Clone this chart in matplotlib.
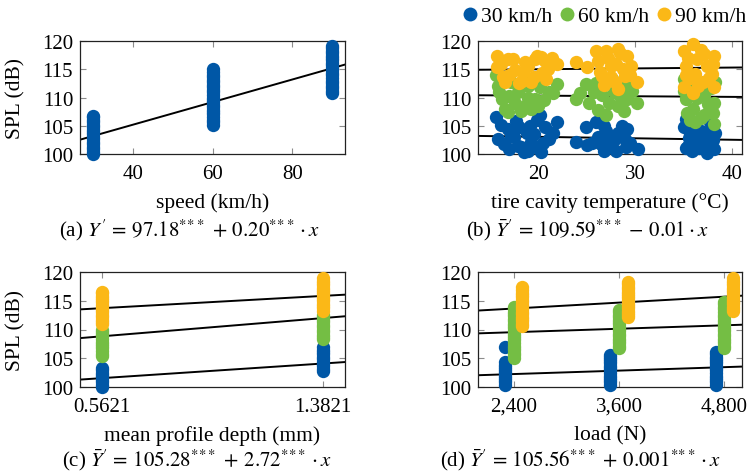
import numpy as np
import matplotlib
matplotlib.use('Agg')
import matplotlib.pyplot as plt
from matplotlib.lines import Line2D

plt.rcParams['font.family'] = ['Liberation Serif', 'DejaVu Serif']
plt.rcParams['mathtext.fontset'] = 'stix'

c_blue = '#0057A6'
c_green = '#74BE44'
c_yellow = '#FBB817'
colors = [c_blue, c_green, c_yellow]
speed_names = ['30 km/h', '60 km/h', '90 km/h']

#%% data
# (a) speed
speeds = [30, 60, 90]
spl_by_speed = [
    [100.0, 100.4, 100.9, 101.3, 101.7, 102.2, 102.6, 103.0, 103.5, 103.9, 104.3, 104.8,
     105.2, 105.6, 106.1, 106.5, 106.8],
    [105.2, 105.6, 106.1, 106.5, 107.0, 107.4, 107.8, 108.3, 108.7, 109.2, 109.6, 110.0,
     110.5, 110.9, 111.4, 111.8, 112.2, 112.7, 113.1, 113.6, 114.0, 114.5, 115.0],
    [110.8, 111.2, 111.7, 112.1, 112.6, 113.0, 113.5, 113.9, 114.3, 114.8, 115.2, 115.7,
     116.1, 116.6, 117.0, 117.4, 117.9, 118.3, 118.7, 119.1],
]
speed_fit = [97.18, 0.20]

# (b) tire cavity temperature
temp_30 = [15.7, 15.9, 16.9, 17.9, 18.5, 19.3, 19.9, 20.2, 20.0, 21.1, 21.9, 20.7, 17.2, 18.8,
           16.5, 17.0, 17.5, 18.2, 18.0, 19.0, 19.6, 20.5, 16.2, 17.7, 19.2, 21.5, 20.3,
           23.9, 24.9, 26.0, 27.5, 26.8, 28.2, 29.2, 30.3, 28.9, 25.5, 27.2,
           26.2, 26.5, 27.0, 27.8, 28.0, 28.6, 29.5, 26.8, 25.0, 29.0,
           35.2, 37.9, 38.1, 35.4, 36.4, 37.1, 36.0, 37.4, 35.6, 38.0,
           35.0, 35.5, 35.8, 36.2, 36.6, 36.8, 37.3, 37.7, 38.2, 35.2, 37.8]
spl_30 = [106.5, 102.6, 104.4, 101.5, 100.3, 102.2, 106.0, 106.9, 101.0, 102.6, 105.6, 104.7, 103.2, 103.8,
          101.8, 100.8, 103.0, 101.2, 104.8, 100.6, 103.6, 102.0, 105.2, 105.8, 105.0, 103.8, 100.4,
          102.2, 104.7, 105.6, 101.3, 100.5, 103.7, 104.4, 100.9, 102.6, 102.0, 103.2,
          103.0, 101.8, 104.0, 102.4, 100.6, 104.9, 102.0, 105.0, 101.6, 101.2,
          106.2, 104.9, 100.8, 101.5, 102.6, 103.7, 104.7, 100.2, 103.6, 102.5,
          104.8, 102.8, 100.6, 105.6, 101.0, 104.0, 102.1, 105.6, 103.8, 101.0, 101.4]
temp_60 = [15.7, 15.9, 16.3, 16.9, 17.9, 18.6, 19.7, 20.0, 21.1, 21.9, 17.6, 18.9,
           16.0, 16.6, 17.2, 17.0, 18.2, 18.0, 19.0, 19.3, 20.6, 21.5, 16.4, 20.2, 18.5,
           23.9, 24.9, 25.2, 26.6, 27.0, 28.2, 29.2, 30.2, 27.6, 28.6,
           24.3, 25.8, 26.2, 27.3, 27.8, 28.8, 29.7, 26.0, 28.5, 29.0,
           35.0, 35.2, 36.0, 37.1, 38.1, 38.1, 35.8, 37.1, 38.2,
           35.3, 35.6, 36.4, 36.6, 36.8, 37.5, 37.8, 35.0, 36.2, 38.0]
spl_60 = [113.9, 112.1, 109.8, 107.4, 110.9, 108.5, 109.8, 108.5, 110.9, 112.4, 109.1, 112.1,
          111.0, 108.0, 112.8, 110.2, 107.6, 111.5, 110.0, 107.9, 109.6, 110.8, 113.0, 111.8, 113.0,
          109.8, 112.4, 109.1, 110.4, 106.9, 108.5, 109.8, 109.1, 113.3, 111.5,
          110.8, 111.0, 107.8, 109.0, 111.0, 107.6, 111.2, 112.6, 110.0, 112.2,
          113.3, 109.8, 108.0, 106.9, 105.3, 109.1, 111.5, 110.4, 112.8,
          107.2, 106.0, 110.0, 112.4, 106.4, 108.8, 111.6, 111.2, 105.6, 107.2]
temp_90 = [15.8, 15.8, 16.9, 16.6, 17.6, 18.6, 19.7, 19.9, 19.3, 20.7, 21.9, 20.4, 18.3,
           16.2, 17.0, 17.4, 18.0, 18.4, 19.0, 19.6, 20.3, 21.0, 21.4, 16.4, 20.8,
           23.9, 25.0, 26.0, 27.0, 26.6, 27.5, 27.9, 29.2, 28.9, 30.2, 28.2, 29.6,
           26.2, 26.4, 27.2, 27.5, 28.0, 28.4, 28.7, 29.5, 26.8, 28.2,
           35.0, 36.0, 35.2, 35.0, 36.0, 37.1, 38.1, 37.9, 38.1, 36.2, 37.0,
           35.4, 35.6, 36.4, 36.5, 36.8, 37.4, 37.6, 38.0, 35.2, 36.0]
spl_90 = [117.4, 115.4, 116.8, 112.8, 114.8, 116.2, 116.8, 117.4, 112.8, 116.5, 115.9, 114.3, 113.0,
          116.0, 114.0, 116.8, 112.6, 114.6, 115.5, 113.6, 117.2, 115.0, 117.0, 113.6, 113.2,
          116.2, 115.4, 118.3, 118.3, 113.8, 115.6, 112.8, 117.4, 113.8, 112.8, 111.5, 115.6,
          116.4, 114.6, 117.0, 113.6, 116.0, 117.8, 115.0, 114.0, 112.2, 118.6,
          118.3, 119.5, 115.6, 111.8, 110.9, 117.7, 117.4, 114.2, 111.8, 114.2, 112.8,
          117.0, 113.4, 116.8, 112.0, 118.4, 115.6, 113.4, 116.0, 114.0, 110.8]
temp_fit_icpt = [103.56, 110.55, 114.70]
temp_fit_slope = [-0.026, -0.011, 0.015]

# (c) mean profile depth
mpd_levels = [0.5621, 1.3821]
mpd_tick_labels = ['0.5621', '1.3821']
mpd_spl = [  # [speed][mpd level]
    [[100.0, 100.4, 100.8, 101.2, 101.7, 102.1, 102.5, 102.9, 103.3],
     [102.8, 103.2, 103.6, 104.0, 104.4, 104.9, 105.3, 105.7, 106.1, 106.5, 107.0]],
    [[105.4, 105.8, 106.2, 106.7, 107.1, 107.5, 107.9, 108.4, 108.8, 109.2, 109.6, 110.0],
     [108.3, 108.7, 109.1, 109.6, 110.0, 110.4, 110.8, 111.3, 111.7, 112.1, 112.6]],
    [[110.9, 111.3, 111.7, 112.1, 112.6, 113.0, 113.4, 113.8, 114.2, 114.7, 115.1, 115.5,
      115.9, 116.3, 116.6],
     [113.3, 113.7, 114.1, 114.5, 114.9, 115.3, 115.7, 116.1, 116.5, 116.9, 117.3, 117.7,
      118.1, 118.5, 118.9]],
]
mpd_fit_icpt = [99.80, 106.65, 112.25]
mpd_fit_slope = [3.10, 3.86, 2.60]

# (d) load
loads = [2400, 3600, 4800]
load_tick_labels = ['2,400', '3,600', '4,800']
load_offset = [-100, 0, 100]   # side-by-side offset per speed
load_spl = [  # [speed][load level]
    [[100.4, 100.8, 101.2, 101.6, 102.0, 102.4, 102.8, 103.1, 103.5, 103.9, 104.3, 106.9],
     [100.4, 100.8, 101.2, 101.6, 102.0, 102.4, 102.9, 103.3, 103.7, 104.1, 104.5, 104.9,
      105.2, 105.5],
     [100.4, 100.8, 101.2, 101.6, 102.0, 102.4, 102.9, 103.3, 103.7, 104.1, 104.5, 104.9,
      105.3, 105.7, 106.1]],
    [[105.1, 105.5, 105.9, 106.4, 106.8, 107.2, 107.6, 108.1, 108.5, 108.9, 109.3, 109.8,
      110.2, 110.6, 111.0, 111.5, 111.9, 112.3, 112.7, 113.1, 113.5, 113.9],
     [106.8, 107.2, 107.6, 108.0, 108.4, 108.9, 109.3, 109.7, 110.1, 110.5, 110.9, 111.3,
      111.7, 112.1, 112.6, 113.0, 113.4],
     [106.8, 107.2, 107.6, 108.0, 108.4, 108.9, 109.3, 109.7, 110.1, 110.5, 110.9, 111.3,
      111.7, 112.1, 112.6, 113.0, 113.5, 113.9, 114.4, 114.8]],
    [[110.6, 111.0, 111.4, 111.8, 112.2, 112.7, 113.1, 113.5, 113.9, 114.3, 114.8, 115.2,
      115.6, 116.0, 116.4, 116.9, 117.4],
     [112.1, 112.5, 112.9, 113.3, 113.7, 114.1, 114.5, 115.0, 115.4, 115.8, 116.2, 116.6,
      117.0, 117.4, 117.9, 118.3],
     [113.2, 113.6, 114.0, 114.4, 114.8, 115.2, 115.6, 116.0, 116.5, 116.9, 117.3, 117.7,
      118.1, 118.5, 118.9]],
]
load_fit_icpt = [101.05, 108.33, 111.58]
load_fit_slope = [0.0005, 0.0005, 0.00086]

yticks = [100, 105, 110, 115, 120]

#%% figure
W, H = 751, 477
fig = plt.figure(figsize=(W / 100, H / 100), dpi=100)

def px_axes(l, r, t, b):
    return fig.add_axes([l / W, 1 - b / H, (r - l) / W, (b - t) / H])

ax_a = px_axes(80, 345, 42, 155)
ax_b = px_axes(478, 742, 42, 155)
ax_c = px_axes(80, 345, 273, 388)
ax_d = px_axes(478, 742, 273, 388)

ms = 92  # marker area

def style(ax):
    ax.set_ylim(100, 120)
    ax.set_yticks(yticks)
    ax.tick_params(direction='in', length=4, width=0.8, color='#8c8c8c',
                   top=True, right=True, labelsize=15, pad=7)
    ax.tick_params(axis='y', pad=5)
    for s in ax.spines.values():
        s.set_linewidth(0.9)
        s.set_color('#222222')

def fit_line(ax, a, b):
    xl = ax.get_xlim()
    xs = np.array(xl)
    ax.plot(xs, a + b * xs, color='black', lw=1.4, zorder=2)
    ax.set_xlim(xl)

# (a)
for s, vals in zip(speeds, spl_by_speed):
    ax_a.scatter([s] * len(vals), vals, s=ms, color=c_blue, lw=0, zorder=3, clip_on=False)
ax_a.set_xlim(26.75, 93.25)
ax_a.set_xticks([40, 60, 80])
fit_line(ax_a, speed_fit[0], speed_fit[1])

# (b)
ax_b.set_xlim(13.8, 41.0)
for t, v, c in zip([temp_30, temp_60, temp_90], [spl_30, spl_60, spl_90], colors):
    ax_b.scatter(t, v, s=ms, color=c, lw=0, zorder=3, clip_on=False)
ax_b.set_xticks([20, 30, 40])
for i in range(3):
    fit_line(ax_b, temp_fit_icpt[i], temp_fit_slope[i])

# (c)
ax_c.set_xlim(0.4801, 1.4641)
for i in range(3):
    for j, m in enumerate(mpd_levels):
        vals = mpd_spl[i][j]
        ax_c.scatter([m] * len(vals), vals, s=ms, color=colors[i], lw=0, zorder=3 + i, clip_on=False)
ax_c.set_xticks(mpd_levels)
ax_c.set_xticklabels(mpd_tick_labels)
for i in range(3):
    fit_line(ax_c, mpd_fit_icpt[i], mpd_fit_slope[i])

# (d)
ax_d.set_xlim(1995, 5000)
for i in range(3):
    for j, L in enumerate(loads):
        vals = load_spl[i][j]
        ax_d.scatter([L + load_offset[i]] * len(vals), vals, s=ms, color=colors[i], lw=0,
                     zorder=3 + i, clip_on=False)
ax_d.set_xticks(loads)
ax_d.set_xticklabels(load_tick_labels)
for i in range(3):
    fit_line(ax_d, load_fit_icpt[i], load_fit_slope[i])

for ax in [ax_a, ax_b, ax_c, ax_d]:
    style(ax)

lab_fs = 15.5
ax_a.set_ylabel('SPL (dB)', fontsize=lab_fs)
ax_c.set_ylabel('SPL (dB)', fontsize=lab_fs)
ax_a.yaxis.set_label_coords(-(80 - 25) / 265, 0.5)
ax_c.yaxis.set_label_coords(-(80 - 25) / 265, 0.5)

ax_a.set_xlabel('speed (km/h)', fontsize=lab_fs, labelpad=7)
ax_b.set_xlabel('tire cavity temperature (°C)', fontsize=lab_fs, labelpad=7)
ax_c.set_xlabel('mean profile depth (mm)', fontsize=lab_fs, labelpad=7)
ax_d.set_xlabel('load (N)', fontsize=lab_fs, labelpad=7)

cap_fs = 15
fig.text(189 / W, 1 - 230 / H, r"(a) $Y'\,=\,97.18^{*\!*\!*}\,+\,0.20^{*\!*\!*} \cdot x$",
         ha='center', va='center', fontsize=cap_fs)
fig.text(587 / W, 1 - 230 / H, r"(b) $\bar{Y}'\,=\,109.59^{*\!*\!*}\,-\,0.01 \cdot x$",
         ha='center', va='center', fontsize=cap_fs)
fig.text(197 / W, 1 - 460 / H, r"(c) $\bar{Y}'\,=\,105.28^{*\!*\!*}\,+\,2.72^{*\!*\!*} \cdot x$",
         ha='center', va='center', fontsize=cap_fs)
fig.text(581 / W, 1 - 460 / H, r"(d) $\bar{Y}'\,=\,105.56^{*\!*\!*}\,+\,0.001^{*\!*\!*} \cdot x$",
         ha='center', va='center', fontsize=cap_fs)

handles = [Line2D([], [], ls='none', marker='o', ms=10, color=c, mec='none') for c in colors]
fig.legend(handles, speed_names, loc='center right', bbox_to_anchor=(746 / W, 1 - 17 / H),
           ncol=3, frameon=False, handletextpad=0.0, columnspacing=0.2, handlelength=1.0,
           fontsize=15.5, borderpad=0, borderaxespad=0)

fig.savefig('out.png', dpi=100)
